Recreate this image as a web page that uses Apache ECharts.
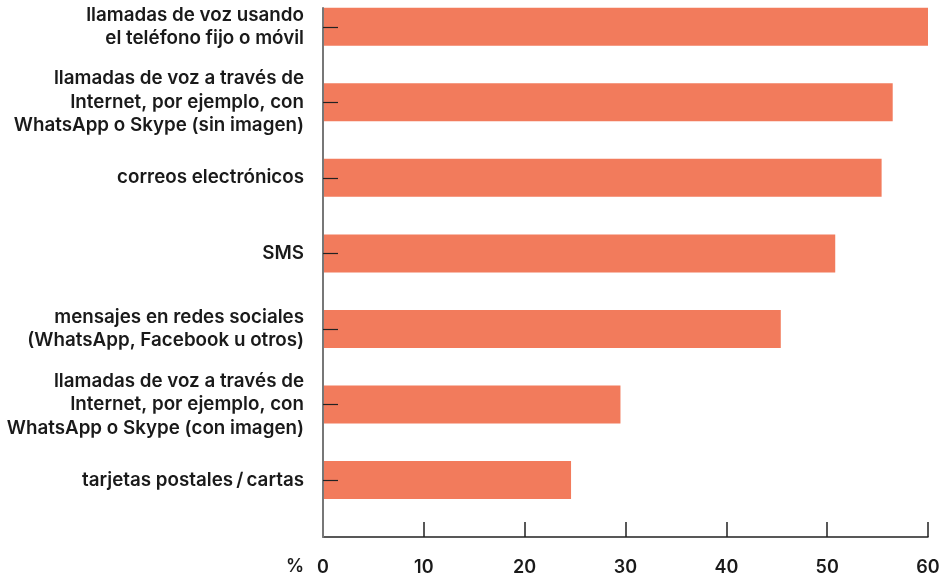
<!DOCTYPE html>
<html>
<head>
<meta charset="utf-8">
<style>
  html, body { margin: 0; padding: 0; background: #fff; overflow: hidden; }
  /* the first category band begins above the visible page, so the chart
     box is shifted up by 11px and made 11px taller */
  #chart { width: 951px; height: 590px; margin-top: -11px; }
</style>
<script src="https://cdn.jsdelivr.net/npm/echarts@6/dist/echarts.min.js"></script>
</head>
<body>
<div id="chart"></div>
<script>
var categories = [
  "llamadas de voz usando\nel teléfono fijo o móvil",
  "llamadas de voz a través de\nInternet, por ejemplo, con\nWhatsApp o Skype (sin imagen)",
  "correos electrónicos",
  "SMS",
  "mensajes en redes sociales\n(WhatsApp, Facebook u otros)",
  "llamadas de voz a través de\nInternet, por ejemplo, con\nWhatsApp o Skype (con imagen)",
  "tarjetas postales\u2009/\u2009cartas"
];
var values = [60.0, 56.5, 55.4, 50.8, 45.4, 29.5, 24.6];
var xMin = 0;
var xMax = 60;
var xStep = 10;

var dom = document.getElementById("chart");
var chart = echarts.init(dom, null, { renderer: "canvas" });

var font = "Inter, 'Liberation Sans', sans-serif";

var option = {
  animation: false,
  textStyle: { fontFamily: font },
  grid: [
    // bars
    { left: 323, right: 23, top: 0, bottom: 61.25 },
    // frame: bottom value axis + left line
    { left: 323, right: 23, top: 19, bottom: 42 },
  ],
  xAxis: [
    {
      gridIndex: 0,
      type: "value",
      min: xMin,
      max: xMax,
      interval: xStep,
      show: false,
    },
    {
      gridIndex: 1,
      type: "value",
      min: xMin,
      max: xMax,
      interval: xStep,
      name: "%",
      nameLocation: "start",
      nameGap: 19,
      nameTextStyle: {
        color: "#1a1a1a",
        fontSize: 18,
        fontWeight: 600,
        verticalAlign: "top",
        padding: [21, 0, 0, 0],
      },
      axisLine: { lineStyle: { color: "#222", width: 1.5 } },
      axisTick: { inside: true, length: 15, lineStyle: { color: "#222", width: 1.5 } },
      axisLabel: { color: "#1a1a1a", fontSize: 18, fontWeight: 600, margin: 22 },
      splitLine: { show: false },
    },
  ],
  yAxis: [
    {
      gridIndex: 0,
      type: "category",
      inverse: true,
      data: categories,
      z: 10,
      axisLine: { show: false },
      axisTick: {
        show: true,
        inside: true,
        alignWithLabel: true,
        interval: 0,
        length: 15,
        lineStyle: { color: "#222", width: 1.2 },
      },
      axisLabel: {
        color: "#1a1a1a",
        fontSize: 18.8,
        fontWeight: 600,
        lineHeight: 23.5,
        margin: 19,
        interval: 0,
        align: "right",
      },
    },
    {
      gridIndex: 1,
      type: "value",
      min: 0,
      max: 1,
      z: 10,
      axisLine: { show: true, lineStyle: { color: "#777", width: 2 } },
      axisTick: { show: false },
      axisLabel: { show: false },
      splitLine: { show: false },
    },
  ],
  series: [
    {
      type: "bar",
      xAxisIndex: 0,
      yAxisIndex: 0,
      data: values,
      barWidth: 38,
      itemStyle: { color: "#f27b5c" },
      z: 0,
    },
  ],
};

chart.setOption(option);
window.addEventListener("resize", chart.resize);
</script>
</body>
</html>
